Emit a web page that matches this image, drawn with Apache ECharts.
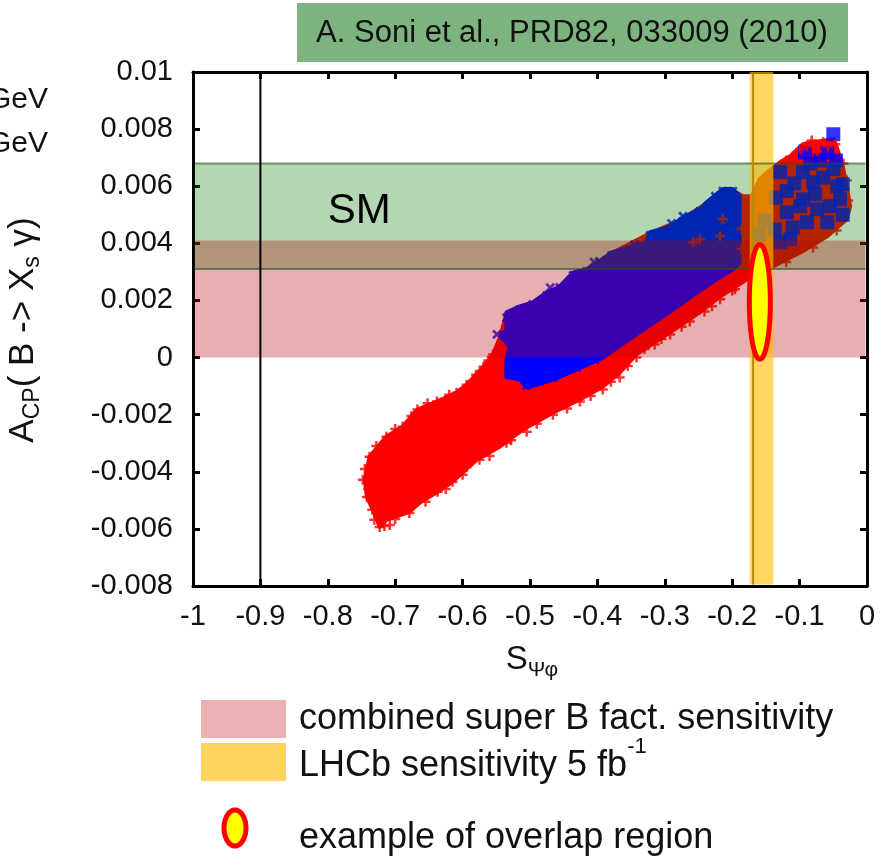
<!DOCTYPE html>
<html><head><meta charset="utf-8">
<script src="https://cdn.jsdelivr.net/npm/echarts@6/dist/echarts.min.js"></script>
<style>html,body{margin:0;padding:0;background:#fff}#c{width:895px;height:865px}</style>
</head><body><div id="c"></div>
<script>
const FONT = 'Liberation Sans, Arial, sans-serif';
const xTickLabels = ['-1','-0.9','-0.8','-0.7','-0.6','-0.5','-0.4','-0.3','-0.2','-0.1','0'];
const yTickLabels = ['-0.008','-0.006','-0.004','-0.002','0','0.002','0.004','0.006','0.008','0.01'];

// outline of the whole scan cloud (red points), [S_psiphi, A_CP]
const redCloudOutline = [
 [-0.723,-0.00593],[-0.713,-0.00568],[-0.679,-0.00540],[-0.664,-0.00509],[-0.637,-0.00470],
 [-0.615,-0.00435],[-0.579,-0.00358],[-0.545,-0.00312],[-0.511,-0.00253],[-0.466,-0.00193],
 [-0.426,-0.00147],[-0.392,-0.00102],[-0.367,-0.00053],[-0.342,0.00011],[-0.292,0.00088],
 [-0.248,0.00158],[-0.218,0.00214],[-0.178,0.00274],[-0.140,0.00319],[-0.099,0.00368],
 [-0.059,0.00425],[-0.030,0.00484],[-0.025,0.00530],[-0.030,0.00600],[-0.036,0.00670],
 [-0.044,0.00730],[-0.050,0.00765],[-0.080,0.00754],[-0.095,0.00747],[-0.114,0.00705],
 [-0.129,0.00684],[-0.148,0.00649],[-0.159,0.00625],[-0.171,0.00565],[-0.184,0.00565],
 [-0.199,0.00585],[-0.214,0.00585],[-0.238,0.00540],[-0.278,0.00480],[-0.322,0.00435],
 [-0.379,0.00365],[-0.416,0.00305],[-0.456,0.00245],[-0.496,0.00190],[-0.535,0.00155],
 [-0.544,0.00074],[-0.555,0.00011],[-0.569,-0.00032],[-0.594,-0.00095],[-0.609,-0.00123],
 [-0.638,-0.00154],[-0.667,-0.00182],[-0.689,-0.00242],[-0.713,-0.00277],[-0.738,-0.00347],
 [-0.745,-0.00428],[-0.742,-0.00488],[-0.731,-0.00544]
];
// outline of the blue points region
const blueCloudOutline = [
 [-0.535,0.00158],[-0.515,0.00179],[-0.496,0.00193],[-0.475,0.00228],[-0.456,0.00249],
 [-0.436,0.00298],[-0.416,0.00309],[-0.397,0.00337],[-0.379,0.00368],[-0.327,0.00404],
 [-0.322,0.00439],[-0.288,0.00460],[-0.278,0.00484],[-0.248,0.00519],[-0.238,0.00544],
 [-0.214,0.00590],[-0.199,0.00590],[-0.189,0.00565],[-0.189,0.00330],[-0.199,0.00309],
 [-0.223,0.00274],[-0.258,0.00218],[-0.292,0.00161],[-0.342,0.00081],[-0.392,0.00000],
 [-0.431,-0.00042],[-0.466,-0.00077],[-0.505,-0.00105],[-0.515,-0.00077],[-0.535,-0.00067],
 [-0.535,-0.00007],[-0.530,0.00039],[-0.544,0.00074],[-0.535,0.00098]
];
const redEdgePoints = [
 [-0.667,-0.00182],[-0.689,-0.00242],[-0.713,-0.00277],[-0.723,-0.00320],[-0.738,-0.00347],
 [-0.745,-0.00390],[-0.748,-0.00428],[-0.742,-0.00488],[-0.734,-0.00533],[-0.731,-0.00568],
 [-0.723,-0.00593],[-0.708,-0.00586],[-0.679,-0.00544],[-0.637,-0.00470],[-0.615,-0.00435],
 [-0.594,-0.00383],[-0.575,-0.00358],[-0.535,-0.00298],[-0.505,-0.00260],[-0.638,-0.00154],
 [-0.609,-0.00123],[-0.594,-0.00095],[-0.569,-0.00032],[-0.555,0.00011],[-0.466,-0.00200],
 [-0.426,-0.00154],[-0.392,-0.00112],[-0.367,-0.00070],[-0.342,0.00000],[-0.315,0.00046],
 [-0.292,0.00081],[-0.263,0.00126],[-0.241,0.00161],[-0.218,0.00204],[-0.196,0.00239],
 [-0.258,0.00404],[-0.248,0.00413],[-0.218,0.00425],[-0.214,0.00484],[-0.186,0.00450],
 [-0.186,0.00380],[-0.028,0.00550],[-0.030,0.00620],[-0.035,0.00680],
 [-0.700,-0.00565],[-0.655,-0.00505],[-0.625,-0.00460],[-0.600,-0.00410],[-0.560,-0.00345],
 [-0.528,-0.00290],[-0.490,-0.00232],[-0.445,-0.00178],[-0.410,-0.00135],[-0.380,-0.00085],
 [-0.355,-0.00030],[-0.330,0.00030],[-0.305,0.00065],[-0.275,0.00108],[-0.230,0.00180],
 [-0.200,0.00235],[-0.120,0.00335],[-0.080,0.00385],[-0.045,0.00445],
 [-0.728,-0.00310],[-0.700,-0.00250],[-0.676,-0.00205],[-0.652,-0.00160],[-0.620,-0.00130],
 [-0.580,-0.00060],[-0.562,-0.00010],[-0.740,-0.00460],[-0.716,-0.00590]
];
const redTopPoints = [
 [-0.089,0.00740],[-0.074,0.00723],[-0.110,0.00705],[-0.099,0.00730],[-0.065,0.00754],
 [-0.047,0.00747],[-0.120,0.00690],[-0.082,0.00760],[-0.058,0.00740]
];
const blueEdgePoints = [
 [-0.549,0.00081],[-0.535,0.00140],[-0.515,0.00168],[-0.496,0.00186],[-0.475,0.00218],
 [-0.456,0.00246],[-0.436,0.00288],[-0.416,0.00302],[-0.397,0.00337],[-0.379,0.00358],
 [-0.352,0.00379],[-0.327,0.00393],[-0.322,0.00428],[-0.300,0.00442],[-0.273,0.00495],
 [-0.263,0.00490],[-0.248,0.00512],[-0.230,0.00537],[-0.214,0.00583],[-0.199,0.00583],
 [-0.530,-0.00060],[-0.505,-0.00098],[-0.486,-0.00084],[-0.466,-0.00070],[-0.431,-0.00035],
 [-0.404,-0.00007],[-0.470,0.00245],[-0.405,0.00335],[-0.345,0.00395],[-0.290,0.00470],
 [-0.225,0.00565]
];
const blueBlobPoints = [
 [-0.129,0.00649],[-0.119,0.00583],[-0.095,0.00649],[-0.080,0.00614],[-0.050,0.00660],
 [-0.044,0.00600],[-0.040,0.00554],[-0.055,0.00530],[-0.074,0.00519],[-0.099,0.00530],
 [-0.119,0.00509],[-0.089,0.00474],[-0.059,0.00474],[-0.129,0.00404],[-0.095,0.00554],
 [-0.050,0.00782],[-0.092,0.00718],[-0.059,0.00718],[-0.070,0.00690],[-0.110,0.00456],
 [-0.036,0.00500],[-0.137,0.00449],[-0.114,0.00414],[-0.077,0.00572],[-0.036,0.00607],
 [-0.065,0.00630],[-0.108,0.00610],[-0.135,0.00560],[-0.152,0.00480],[-0.160,0.00430],
 [-0.046,0.00690],[-0.084,0.00680]
];
const smBand = [0.0031, 0.0068];       // SM prediction band
const superBBand = [0, 0.0041];        // combined super B sensitivity
const lhcbBand = [-0.174, -0.139];     // LHCb 5 fb^-1
const lhcbLineX = -0.169;
const refLineX = -0.9;
const overlapEllipse = [-0.159, 0.00195, 0.0156, 0.00201]; // cx, cy, half-width, half-height
const smLabel = [-0.800, 0.00513];

const plusPath = 'path://M3,0H5V3H8V5H5V8H3V5H0V3H3Z';

function polySeries(pts, color, z) {
  return {
    type: 'custom', data: pts, z: z, silent: true, clip: true,
    renderItem(params, api) {
      if (params.dataIndex !== 0) return null;
      const points = pts.map(p => api.coord(p));
      return { type: 'polygon', shape: { points }, style: { fill: color, stroke: color, lineWidth: 4, lineJoin: 'round' } };
    }
  };
}
function ellipsePts(cx, cy, rx, ry) {
  const out = [];
  for (let i = 0; i < 72; i++) { const t = i / 72 * Math.PI * 2; out.push([cx + rx * Math.cos(t), cy + ry * Math.sin(t)]); }
  return out;
}

const chart = echarts.init(document.getElementById('c'), null, { renderer: 'canvas' });
const axisLine = { show: true, onZero: false, lineStyle: { color: '#000', width: 3 } };
const axisTick = { show: true, inside: true, length: 7, lineStyle: { color: '#000', width: 3 } };

chart.setOption({
  animation: false,
  backgroundColor: '#fff',
  grid: { left: 193, top: 72, width: 674, height: 514, containLabel: false, outerBoundsMode: 'none' },
  xAxis: [
    { type: 'value', min: -1, max: 0, interval: 0.1, position: 'bottom', axisLine, axisTick,
      splitLine: { show: false },
      axisLabel: { fontSize: 29, color: '#111', fontFamily: FONT, margin: 16,
        formatter: v => xTickLabels[Math.round((v + 1) * 10)] } },
    { type: 'value', min: -1, max: 0, interval: 0.1, position: 'top', axisLine, axisTick,
      splitLine: { show: false }, axisLabel: { show: false } }
  ],
  yAxis: [
    { type: 'value', min: -0.008, max: 0.01, interval: 0.002, position: 'left', axisLine, axisTick,
      splitLine: { show: false },
      axisLabel: { fontSize: 29, color: '#111', fontFamily: FONT, margin: 20,
        formatter: v => yTickLabels[Math.round((v + 0.008) / 0.002)] } },
    { type: 'value', min: -0.008, max: 0.01, interval: 0.002, position: 'right', axisLine, axisTick,
      splitLine: { show: false }, axisLabel: { show: false } }
  ],
  series: [
    polySeries(redCloudOutline, '#ff0000', 2),
    polySeries(blueCloudOutline, '#0000ff', 2),
    { type: 'scatter', data: redEdgePoints, symbol: plusPath, symbolSize: 10, z: 3, silent: true,
      itemStyle: { color: '#ff0000' } },
    { type: 'scatter', data: blueEdgePoints, symbol: plusPath, symbolSize: 11, symbolRotate: 45, z: 3, silent: true,
      itemStyle: { color: '#0000ff' } },
    { type: 'scatter', data: blueBlobPoints, symbol: 'rect', symbolSize: 14, z: 4, silent: true,
      itemStyle: { color: '#0000ff' } },
    { type: 'scatter', data: redTopPoints, symbol: plusPath, symbolSize: 10, z: 4, silent: true,
      itemStyle: { color: '#ff0000' } },
    { type: 'custom', data: [[0, 0]], z: 10, silent: true, clip: false,
      renderItem(params, api) {
        const cs = params.coordSys;
        const L = cs.x + 1.5, R = cs.x + cs.width - 1.5, T = cs.y + 1.5, B = cs.y + cs.height - 1.5;
        const gy1 = api.coord([0, smBand[1]])[1], gy0 = api.coord([0, smBand[0]])[1];
        const ry1 = api.coord([0, superBBand[1]])[1], ry0 = api.coord([0, superBBand[0]])[1];
        const lx0 = api.coord([lhcbBand[0], 0])[0], lx1 = api.coord([lhcbBand[1], 0])[0];
        const llx = api.coord([lhcbLineX, 0])[0];
        const vx = api.coord([refLineX, 0])[0];
        const sm = api.coord(smLabel);
        return { type: 'group', children: [
          { type: 'rect', shape: { x: L, y: gy1, width: R - L, height: gy0 - gy1 }, style: { fill: 'rgba(0,123,0,0.30)' } },
          { type: 'rect', shape: { x: L, y: ry1, width: R - L, height: ry0 - ry1 }, style: { fill: 'rgba(181,6,6,0.32)' } },
          { type: 'rect', shape: { x: lx0, y: T - 1.5, width: lx1 - lx0, height: B - T + 1.5 }, style: { fill: 'rgba(255,190,0,0.62)' } },
          { type: 'line', shape: { x1: L, y1: gy1, x2: R, y2: gy1 }, style: { stroke: 'rgba(40,80,40,0.6)', lineWidth: 2 } },
          { type: 'line', shape: { x1: L, y1: gy0, x2: R, y2: gy0 }, style: { stroke: 'rgba(40,80,40,0.6)', lineWidth: 2 } },
          { type: 'line', shape: { x1: llx, y1: T, x2: llx, y2: B }, style: { stroke: '#b8890a', lineWidth: 2 } },
          { type: 'line', shape: { x1: vx, y1: T, x2: vx, y2: B }, style: { stroke: '#000', lineWidth: 2 } },
          { type: 'text', x: sm[0], y: sm[1], style: { text: 'SM', fontSize: 42, fontFamily: FONT, fill: '#000', align: 'left', verticalAlign: 'middle' } }
        ] };
      } },
    { type: 'custom', data: [overlapEllipse], z: 12, silent: true, clip: false,
      renderItem(params, api) {
        const c = [api.value(0), api.value(1)], rx = api.value(2), ry = api.value(3);
        const pts = ellipsePts(c[0], c[1], rx, ry).map(p => api.coord(p));
        return { type: 'polygon', shape: { points: pts }, style: { fill: '#ffff00', stroke: '#ff0000', lineWidth: 5 } };
      } }
  ],
  graphic: [
    { type: 'rect', shape: { x: 297, y: 3, width: 551, height: 59 }, style: { fill: '#7db37f' } },
    { type: 'text', x: 572, y: 33, style: { text: 'A. Soni et al., PRD82, 033009 (2010)', fontSize: 31, fontFamily: FONT, fill: '#111', align: 'center', verticalAlign: 'middle' } },
    { type: 'text', x: 48, y: 100, style: { text: 'GeV', fontSize: 30, fontFamily: FONT, fill: '#111', align: 'right', verticalAlign: 'middle' } },
    { type: 'text', x: 48, y: 144, style: { text: 'GeV', fontSize: 30, fontFamily: FONT, fill: '#111', align: 'right', verticalAlign: 'middle' } },
    { type: 'text', x: 33, y: 330, rotation: Math.PI / 2,
      style: { text: '{m|A}{s|CP}{m|( B -> X}{s|s}{m| γ)}', align: 'center', verticalAlign: 'middle', fill: '#111',
        rich: { m: { fontSize: 35, lineHeight: 35, verticalAlign: 'top', fontFamily: FONT, fill: '#111' },
                s: { fontSize: 23, lineHeight: 54, fontFamily: FONT, fill: '#111' } } } },
    { type: 'text', x: 532, y: 670,
      style: { text: '{m|S}{s|Ψφ}', align: 'center', verticalAlign: 'middle', fill: '#111',
        rich: { m: { fontSize: 33, lineHeight: 33, verticalAlign: 'top', fontFamily: FONT, fill: '#111' },
                s: { fontSize: 21, lineHeight: 54, fontFamily: FONT, fill: '#111' } } } },
    { type: 'rect', shape: { x: 201, y: 700, width: 85, height: 38 }, style: { fill: '#eab2b2' } },
    { type: 'rect', shape: { x: 201, y: 743, width: 85, height: 38 }, style: { fill: '#ffd560' } },
    { type: 'polygon', shape: { points: ellipsePts(235, 828, 11, 18) }, style: { fill: '#ffff00', stroke: '#ff0000', lineWidth: 5 } },
    { type: 'text', x: 299, y: 719, style: { text: 'combined super B fact. sensitivity', fontSize: 36, fontFamily: FONT, fill: '#111', align: 'left', verticalAlign: 'middle' } },
    { type: 'text', x: 299, y: 760,
      style: { text: '{m|LHCb sensitivity 5 fb}{p|-1}', align: 'left', verticalAlign: 'middle', fill: '#111',
        rich: { m: { fontSize: 36, lineHeight: 48, verticalAlign: 'bottom', fontFamily: FONT, fill: '#111' },
                p: { fontSize: 22, lineHeight: 24, verticalAlign: 'top', fontFamily: FONT, fill: '#111' } } } },
    { type: 'text', x: 299, y: 838, style: { text: 'example of overlap region', fontSize: 36, fontFamily: FONT, fill: '#111', align: 'left', verticalAlign: 'middle' } }
  ]
});
</script></body></html>
